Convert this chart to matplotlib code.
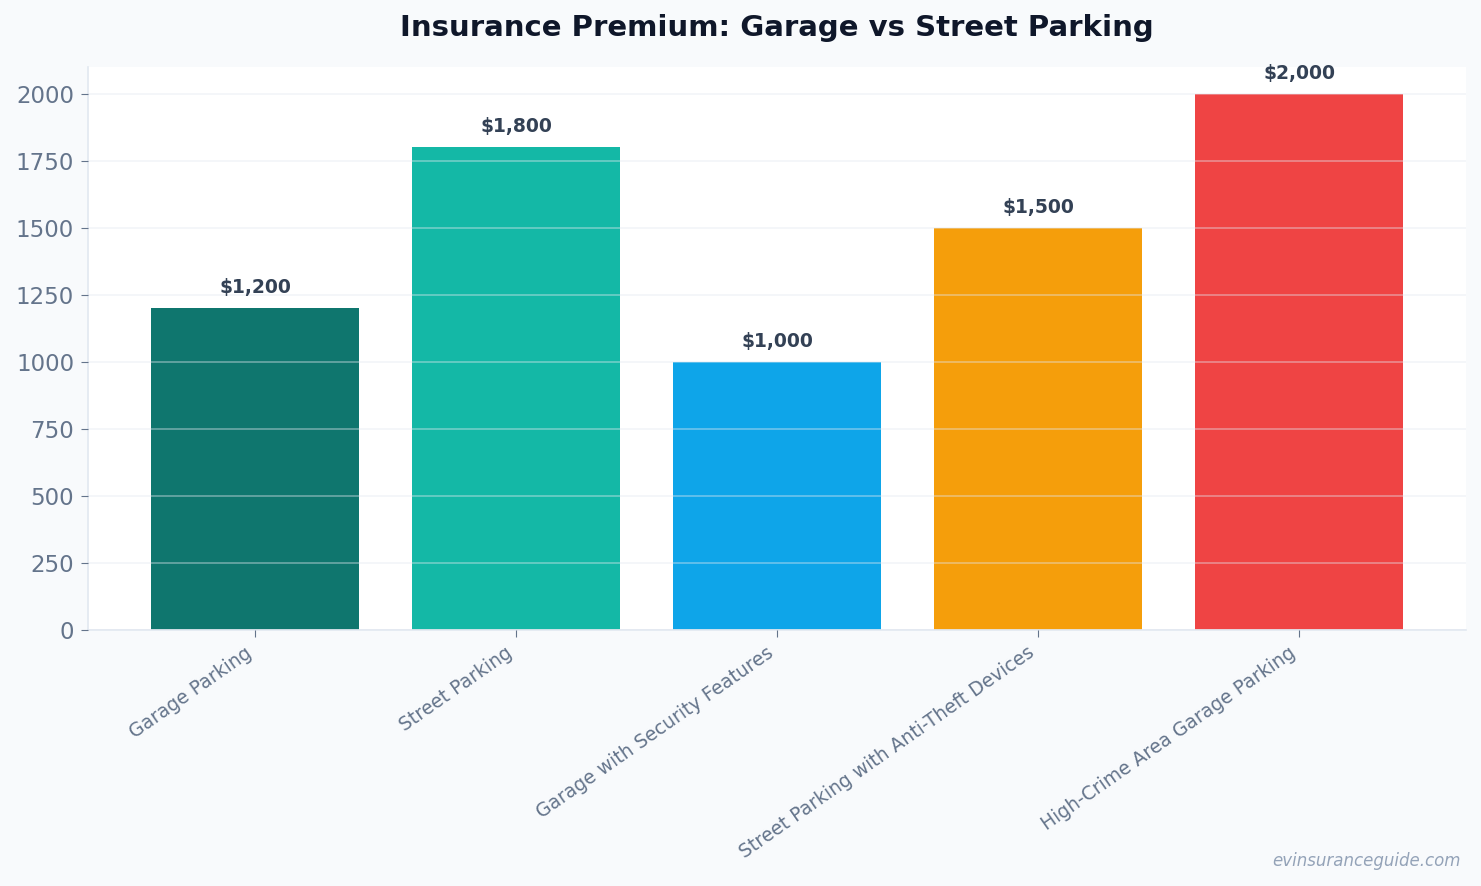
import numpy as np
import matplotlib
matplotlib.use("Agg")
import matplotlib.pyplot as plt

# data
categories = ["Garage Parking", "Street Parking", "Garage with Security Features",
              "Street Parking with Anti-Theft Devices", "High-Crime Area Garage Parking"]
premiums = [1200, 1800, 1000, 1500, 2000]
colors = ["#0f766e", "#14b8a6", "#0ea5e9", "#f59e0b", "#ef4444"]

fig = plt.figure(figsize=(14.81, 8.86), dpi=100, facecolor="#f8fafc")
ax = fig.add_axes([0.0594, 0.2889, 0.9305, 0.6355])
ax.set_facecolor("white")

x = np.arange(len(categories))
bars = ax.bar(x, premiums, width=0.8, color=colors, zorder=2)

for b, v in zip(bars, premiums):
    ax.annotate(f"${v:,}", (b.get_x() + b.get_width() / 2, v),
                xytext=(0, 8), textcoords="offset points", ha="center", va="bottom",
                fontsize=13.5, fontweight="bold", color="#334155")

ax.set_ylim(0, 2100)
ax.set_xticks(x)
ax.set_xticklabels(categories, rotation=35, ha="right",
                   fontsize=13.5, color="#64748b")
ax.tick_params(axis="y", labelsize=16.5, labelcolor="#64748b", color="#64748b", length=5, pad=5)
ax.tick_params(axis="x", color="#64748b", length=5, pad=4.5)

ax.yaxis.grid(True, color="#e2e8f0", alpha=0.45, linewidth=1.2, zorder=3)
ax.set_axisbelow(False)

for s in ["top", "right"]:
    ax.spines[s].set_visible(False)
for s in ["left", "bottom"]:
    ax.spines[s].set_color("#e2e8f0")
    ax.spines[s].set_linewidth(1.2)

ax.set_title("Insurance Premium: Garage vs Street Parking", fontsize=21,
             fontweight="bold", color="#0f172a", pad=22.5)
fig.text(0.986, 0.018, "evinsuranceguide.com", ha="right", va="bottom",
         fontsize=12, style="italic", color="#94a3b8")

fig.savefig("out.png", dpi=100, facecolor=fig.get_facecolor())
